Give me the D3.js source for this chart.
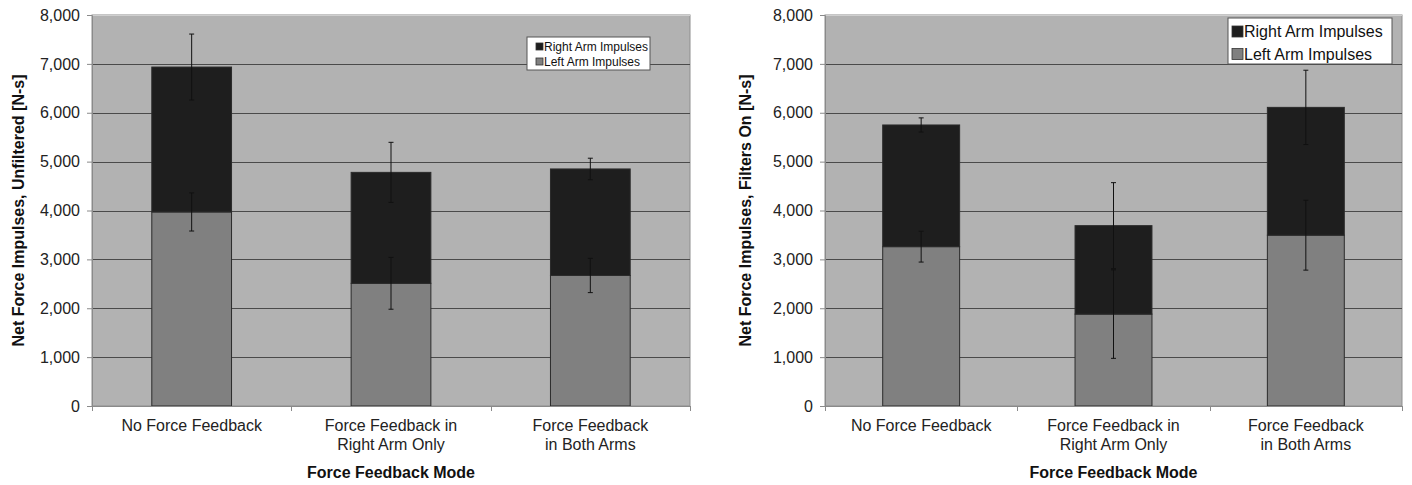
<!DOCTYPE html>
<html>
<head>
<meta charset="utf-8">
<script src="https://cdn.jsdelivr.net/npm/d3@7"></script>
<style>
  html, body { margin: 0; padding: 0; background: #ffffff; }
  svg { display: block; font-family: Arial, "Liberation Sans", sans-serif; }
</style>
</head>
<body>
<svg id="chart" width="1412" height="485"></svg>
<script>
// ---------- data ----------
const categories = [
  ["No Force Feedback"],
  ["Force Feedback in", "Right Arm Only"],
  ["Force Feedback", "in Both Arms"]
];
const seriesNames = ["Right Arm Impulses", "Left Arm Impulses"];
const yTicks = [0, 1000, 2000, 3000, 4000, 5000, 6000, 7000, 8000];

// Left panel: unfiltered
const leftArmUnfiltered = [3970, 2510, 2670];
const rightArmUnfiltered = [2965, 2270, 2180];
const leftErrUnfiltered = [390, 530, 350];
const rightErrUnfiltered = [675, 615, 220];

// Right panel: filters on
const leftArmFiltered = [3260, 1880, 3495];
const rightArmFiltered = [2490, 1810, 2615];
const leftErrFiltered = [315, 905, 715];
const rightErrFiltered = [145, 880, 760];

const yTitleUnfiltered = "Net Force Impulses, Unfiltered [N-s]";
const yTitleFiltered = "Net Force Impulses, Filters On [N-s]";
const xTitle = "Force Feedback Mode";

// ---------- drawing ----------
const svg = d3.select("#chart");
const COL_BG = "#b2b2b2", COL_RIGHT = "#1e1e1e", COL_LEFT = "#808080";

function drawPanel(opt) {
  const g = svg.append("g");
  const keys = categories.map((c, i) => i);
  const x = d3.scaleBand().domain(keys).range([opt.x0, opt.x1]).paddingInner(0).paddingOuter(0);
  const y = d3.scaleLinear().domain([0, 8000]).range([opt.y1, opt.y0]);

  // plot background
  g.append("rect")
    .attr("x", opt.x0).attr("y", opt.y0)
    .attr("width", opt.x1 - opt.x0).attr("height", opt.y1 - opt.y0)
    .attr("fill", COL_BG).attr("stroke", "#8e8e8e").attr("stroke-width", 1);
  g.append("line").attr("x1", opt.x0).attr("x2", opt.x1)
    .attr("y1", opt.y0 + 0.5).attr("y2", opt.y0 + 0.5)
    .attr("stroke", "#cfcfcf");

  // gridlines
  g.selectAll(".grid").data(yTicks.filter(t => t > 0 && t < 8000)).enter()
    .append("line")
    .attr("x1", opt.x0).attr("x2", opt.x1)
    .attr("y1", d => Math.round(y(d)) + 0.5).attr("y2", d => Math.round(y(d)) + 0.5)
    .attr("stroke", "#4a4a4a").attr("stroke-width", 1);

  // stacks
  const rows = keys.map(i => ({
    i, left: opt.left[i], right: opt.right[i],
    le: opt.leftErr[i], re: opt.rightErr[i]
  }));
  const stack = d3.stack().keys(["left", "right"])(rows);
  const bw = x.bandwidth() * 0.4;
  const bx = i => x(i) + (x.bandwidth() - bw) / 2;
  const colors = { left: COL_LEFT, right: COL_RIGHT };

  stack.forEach(layer => {
    g.selectAll(null).data(layer).enter().append("rect")
      .attr("x", d => bx(d.data.i))
      .attr("width", bw)
      .attr("y", d => y(d[1]))
      .attr("height", d => y(d[0]) - y(d[1]))
      .attr("fill", colors[layer.key])
      .attr("stroke", "#2b2b2b").attr("stroke-width", 1);
  });

  // error bars
  const errs = [];
  rows.forEach(r => {
    errs.push({ i: r.i, v: r.left, e: r.le });
    errs.push({ i: r.i, v: r.left + r.right, e: r.re });
  });
  const cx = i => x(i) + x.bandwidth() / 2;
  const eg = g.selectAll(".err").data(errs).enter().append("g")
    .attr("stroke", "#111").attr("stroke-width", 1);
  eg.append("line").attr("x1", d => cx(d.i)).attr("x2", d => cx(d.i))
    .attr("y1", d => y(d.v + d.e)).attr("y2", d => y(d.v - d.e));
  eg.append("line").attr("x1", d => cx(d.i) - 2.5).attr("x2", d => cx(d.i) + 2.5)
    .attr("y1", d => y(d.v + d.e)).attr("y2", d => y(d.v + d.e));
  eg.append("line").attr("x1", d => cx(d.i) - 2.5).attr("x2", d => cx(d.i) + 2.5)
    .attr("y1", d => y(d.v - d.e)).attr("y2", d => y(d.v - d.e));

  // y axis
  const yAxis = d3.axisLeft(y).tickValues(yTicks).tickFormat(d3.format(",")).tickSize(5).tickPadding(7);
  const ya = g.append("g").attr("transform", `translate(${opt.x0},0)`).call(yAxis);
  ya.select(".domain").attr("stroke", "#8a8a8a");
  ya.selectAll(".tick line").attr("stroke", "#8a8a8a");
  ya.selectAll(".tick text").attr("font-size", 16).attr("fill", "#222")
    .attr("font-family", "Arial, 'Liberation Sans', sans-serif");

  // x axis line and boundary ticks
  g.append("line").attr("x1", opt.x0).attr("x2", opt.x1)
    .attr("y1", opt.y1 + 0.5).attr("y2", opt.y1 + 0.5).attr("stroke", "#8a8a8a");
  const bounds = keys.map(i => x(i)).concat([opt.x1]);
  g.selectAll(".xt").data(bounds).enter().append("line")
    .attr("x1", d => Math.round(d) + 0.5).attr("x2", d => Math.round(d) + 0.5)
    .attr("y1", opt.y1).attr("y2", opt.y1 + 5).attr("stroke", "#8a8a8a");

  // x labels
  const lbl = g.selectAll(".xl").data(keys).enter().append("text")
    .attr("text-anchor", "middle").attr("font-size", 16).attr("fill", "#222")
    .attr("transform", i => `translate(${cx(i)},${opt.y1 + 25})`);
  lbl.selectAll("tspan").data(i => categories[i].map((t, k) => ({ t, k }))).enter()
    .append("tspan").attr("x", 0).attr("y", d => d.k * 18.5).text(d => d.t);

  // titles
  g.append("text").attr("text-anchor", "middle").attr("font-size", 16).attr("font-weight", "bold")
    .attr("fill", "#111")
    .attr("x", (opt.x0 + opt.x1) / 2).attr("y", 478).text(xTitle);
  g.append("text").attr("text-anchor", "middle").attr("font-size", 16).attr("font-weight", "bold")
    .attr("fill", "#111").attr("dy", "0.35em")
    .attr("transform", `translate(${opt.titleX},${(opt.y0 + opt.y1) / 2}) rotate(-90)`)
    .text(opt.yTitle);

  // legend
  const L = opt.legend;
  const lg = g.append("g");
  lg.append("rect").attr("x", L.x).attr("y", L.y).attr("width", L.w).attr("height", L.h)
    .attr("fill", "#fff").attr("stroke", "#555").attr("stroke-width", 1);
  const legColors = [COL_RIGHT, COL_LEFT];
  seriesNames.forEach((name, k) => {
    const cy = L.y + L.rowY[k];
    lg.append("rect").attr("x", L.x + L.sqX).attr("y", cy - L.sq / 2)
      .attr("width", L.sq).attr("height", L.sq)
      .attr("fill", legColors[k]).attr("stroke", "#333").attr("stroke-width", 0.8);
    lg.append("text").attr("x", L.x + L.sqX + L.sq + 1).attr("y", cy).attr("dy", "0.35em")
      .attr("font-size", L.fs).attr("fill", "#111").text(name);
  });
}

drawPanel({
  x0: 92, x1: 690, y0: 15, y1: 406, titleX: 18,
  left: leftArmUnfiltered, right: rightArmUnfiltered,
  leftErr: leftErrUnfiltered, rightErr: rightErrUnfiltered,
  yTitle: yTitleUnfiltered,
  legend: { x: 527, y: 37, w: 123, h: 33, sqX: 9, sq: 7, rowY: [9.5, 24.5], fs: 12 }
});
drawPanel({
  x0: 825, x1: 1402, y0: 15, y1: 406, titleX: 745,
  left: leftArmFiltered, right: rightArmFiltered,
  leftErr: leftErrFiltered, rightErr: rightErrFiltered,
  yTitle: yTitleFiltered,
  legend: { x: 1228, y: 18, w: 164, h: 46, sqX: 4, sq: 11, rowY: [13.5, 36], fs: 16 }
});
</script>
</body>
</html>
